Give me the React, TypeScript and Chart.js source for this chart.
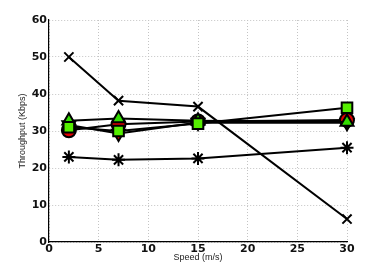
import React, { useEffect, useRef } from "react";
import { Chart, registerables } from "chart.js";
Chart.register(...registerables);

const speeds = [2, 7, 15, 30];
const xTicks = [0, 5, 10, 15, 20, 25, 30];
const yTicks = [0, 10, 20, 30, 40, 50, 60];
const crossSeries = [50, 38.2, 36.6, 6.2];
const asteriskSeries = [23, 22.2, 22.6, 25.5];
const squareSeries = [31, 30, 32, 36.3];
const circleSeries = [30.2, 31.8, 32.6, 33];
const triUpSeries = [32.8, 33.4, 32.8, 32.4];
const triDownSeries = [31.6, 29.3, 32.3, 32.2];

export default function App() {
  const ref = useRef<HTMLCanvasElement>(null);
  useEffect(() => {
    const mk = (label: string, vals: number[], style: any, bg: string, r: number, rot = 0) => ({
      label,
      data: vals.map((v, i) => ({ x: speeds[i], y: v })),
      borderColor: "#000",
      borderWidth: 2,
      pointStyle: style,
      pointRadius: r,
      pointRotation: rot,
      pointBackgroundColor: bg,
      pointBorderColor: "#000",
      pointBorderWidth: 2,
      fill: false,
      tension: 0,
      clip: false,
    });
    const tickFont = { family: "DejaVu Sans", weight: "bold" as const, size: 11 };
    const chart = new Chart(ref.current!, {
      type: "line",
      data: {
        datasets: [
          mk("square", squareSeries, "rect", "#55ee00", 7.5),
          mk("triUp", triUpSeries, "triangle", "#33dd00", 7.5),
          mk("circle", circleSeries, "circle", "#e00000", 7),
          mk("triDown", triDownSeries, "triangle", "#e00000", 7.5, 180),
          mk("asterisk", asteriskSeries, "star", "#000", 6.5),
          mk("cross", crossSeries, "crossRot", "#000", 6.5),
        ] as any,
      },
      options: {
        animation: false,
        responsive: false,
        plugins: { legend: { display: false }, tooltip: { enabled: false } },
        layout: { padding: { top: 20, right: 35, left: 0, bottom: 0 } },
        scales: {
          x: {
            type: "linear",
            min: 0,
            max: 30,
            afterBuildTicks: (s: any) => { s.ticks = xTicks.map((v) => ({ value: v })); },
            afterFit: (s: any) => { s.height = 31; },
            grid: { color: "#c4c4c4", drawTicks: false } as any,
            border: { color: "#000", width: 1.2, dash: [1, 2] } as any,
            ticks: { color: "#111", font: tickFont, padding: 1, maxRotation: 0 },
            title: { display: true, text: "Speed (m/s)", color: "#222", font: { family: "Liberation Sans", size: 9 }, padding: { top: 0, bottom: 10 } },
          },
          y: {
            type: "linear",
            min: 0,
            max: 60,
            afterBuildTicks: (s: any) => { s.ticks = yTicks.map((v) => ({ value: v })); },
            afterFit: (s: any) => { s.width = 49; },
            grid: { color: "#c4c4c4", drawTicks: false } as any,
            border: { color: "#000", width: 1.2, dash: [1, 2] } as any,
            ticks: { color: "#111", font: tickFont, padding: 2 },
            title: { display: true, text: "Throughput (Kbps)", color: "#222", font: { family: "Liberation Sans", size: 9 }, padding: { top: 17, bottom: 0 } },
          },
        },
      },
      plugins: [
        {
          id: "bg",
          beforeDraw: (c: any) => {
            const ctx = c.ctx;
            ctx.save();
            ctx.fillStyle = "#fff";
            ctx.fillRect(0, 0, c.width, c.height);
            ctx.restore();
          },
        },
      ],
    });
    return () => chart.destroy();
  }, []);
  return (
    <div style={{ position: "absolute", left: 0, top: 0, width: 382, height: 273 }}>
      <canvas ref={ref} width={382} height={273} />
    </div>
  );
}
